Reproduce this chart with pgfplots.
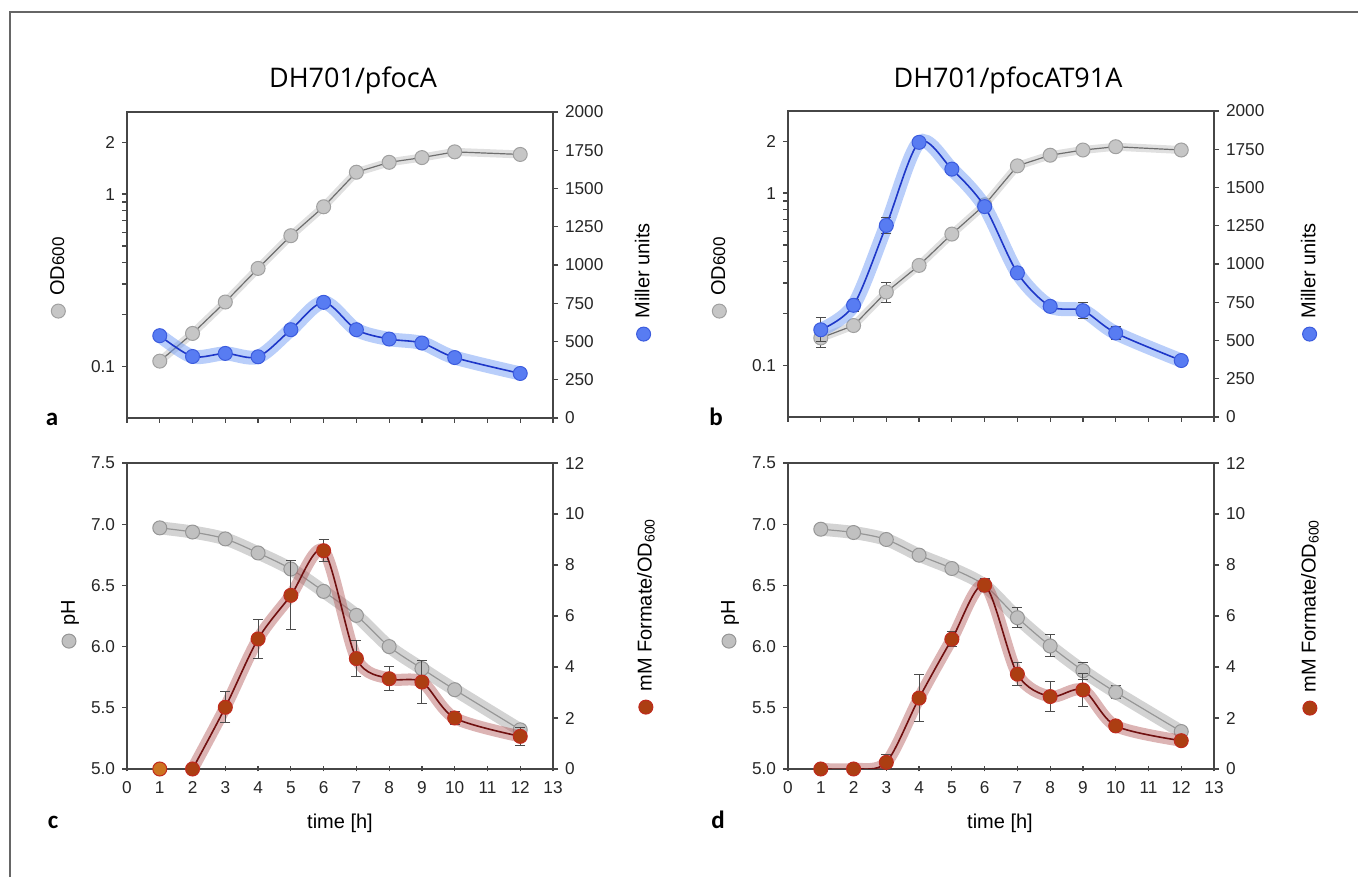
\documentclass[border=0pt]{standalone}
\usepackage{fontspec}
\setmainfont{Liberation Sans}
\newfontfamily\titlefont{Open Sans}
\newfontfamily\letterfont{Carlito}
\usepackage{pgfplots}
\pgfplotsset{compat=1.18}

\definecolor{odfill}{RGB}{198,198,198}
\definecolor{odedge}{RGB}{160,160,160}
\definecolor{odline}{RGB}{110,110,110}
\definecolor{bfill}{RGB}{88,124,242}
\definecolor{bedge}{RGB}{60,92,222}
\definecolor{bline}{RGB}{30,55,200}
\definecolor{bhalo}{RGB}{115,158,245}
\definecolor{rfill}{RGB}{172,62,18}
\definecolor{redge}{RGB}{192,42,30}
\definecolor{rline}{RGB}{112,16,16}
\definecolor{rhalo}{RGB}{178,88,88}
\definecolor{ofill}{RGB}{204,116,32}
\definecolor{phfill}{RGB}{192,192,192}
\definecolor{phedge}{RGB}{150,150,150}
\definecolor{phhalo}{RGB}{150,150,150}
\definecolor{axcol}{RGB}{70,70,70}

\def\u{0.5pt}
\newcommand{\lcirc}[2]{\tikz[baseline=-0.55ex]\draw[#1,fill=#2,line width=0.5pt] (0,0) circle (3.5pt);}

\pgfplotsset{
  panel/.style={scale only axis, width=213pt, height=153pt, anchor=south west,
    xmin=0, xmax=13, xtick={0,...,13},
    axis line style={draw=axcol, line width=0.6pt},
    every tick/.style={axcol, line width=0.6pt},
    major tick length=2.5pt, tick align=outside,
    tick label style={font=\fontsize{8.6}{10}\selectfont, text=black!85},
    xticklabel style={yshift=-1.5pt},
    /pgf/number format/assume math mode=true,
    /pgf/number format/1000 sep={},
    clip mode=individual},
  lefty/.style={panel, ytick pos=left, xtick pos=left},
  righty/.style={panel, axis y line*=right, axis x line=none},
  errs/.style={forget plot, draw=none, mark=none,
    error bars/.cd, y dir=both, y explicit,
    error bar style={draw=black!70, line width=0.5pt},
    error mark options={draw=black!70, rotate=90, mark size=2.5pt, line width=0.5pt}},
  odhalo/.style={draw=black!12, line width=4pt, line cap=round, line join=round},
  odplot/.style={draw=odline, line width=0.6pt, mark=*, mark size=3.5pt,
    mark options={fill=odfill, draw=odedge, line width=0.5pt}},
  bhalo/.style={draw=bhalo, draw opacity=0.5, line width=7pt, smooth, line cap=round},
  bplot/.style={draw=bline, line width=0.8pt, smooth, mark=*, mark size=3.5pt,
    mark options={fill=bfill, draw=bedge, line width=0.5pt}},
  phhalo/.style={draw=phhalo, draw opacity=0.42, line width=6.5pt, smooth, line cap=round},
  phplot/.style={draw=phedge, line width=0.6pt, smooth, mark=*, mark size=3.5pt,
    mark options={fill=phfill, draw=phedge, line width=0.5pt}},
  rhalo/.style={draw=rhalo, draw opacity=0.45, line width=6pt, smooth, line cap=round},
  rplot/.style={draw=rline, line width=0.8pt, smooth, mark=*, mark size=3.5pt,
    mark options={fill=rfill, draw=redge, line width=0.5pt}},
}

\begin{document}
\begin{tikzpicture}
\path[use as bounding box] (0,0) rectangle (1358*\u,877*\u);
\draw[black!60, line width=1pt] (10*\u,0) -- (10*\u,865*\u) -- (1358*\u,865*\u);

% ---------- panel a ----------
\begin{axis}[lefty, at={(127*\u,459*\u)}, ymode=log, ymin=0.05, ymax=3,
  ytick={0.1,0.2,0.3,0.4,0.5,0.6,0.7,0.8,0.9,1,2},
  yticklabels={0.1,,,,,,,,,1,2}, xticklabels={}]
\addplot[odhalo] coordinates {(1,0.107)(2,0.155)(3,0.236)(4,0.37)(5,0.573)(6,0.844)(7,1.34)(8,1.53)(9,1.63)(10,1.76)(12,1.70)};
\addplot[odplot] coordinates {(1,0.107)(2,0.155)(3,0.236)(4,0.37)(5,0.573)(6,0.844)(7,1.34)(8,1.53)(9,1.63)(10,1.76)(12,1.70)};
\end{axis}
\begin{axis}[righty, at={(127*\u,459*\u)}, ymin=0, ymax=2000, ytick distance=250]
\addplot[bhalo] coordinates {(1,538)(2,402)(3,422)(4,400)(5,577)(6,756)(7,577)(8,516)(9,490)(10,395)(12,291)};
\addplot[errs] coordinates {(9,490)+-(0,20)};
\addplot[bplot] coordinates {(1,538)(2,402)(3,422)(4,400)(5,577)(6,756)(7,577)(8,516)(9,490)(10,395)(12,291)};
\end{axis}

% ---------- panel b ----------
\begin{axis}[lefty, at={(788*\u,460*\u)}, ymode=log, ymin=0.05, ymax=3,
  ytick={0.1,0.2,0.3,0.4,0.5,0.6,0.7,0.8,0.9,1,2},
  yticklabels={0.1,,,,,,,,,1,2}, xticklabels={}]
\addplot[odhalo] coordinates {(1,0.144)(2,0.170)(3,0.266)(4,0.38)(5,0.578)(6,0.855)(7,1.44)(8,1.66)(9,1.78)(10,1.86)(12,1.78)};
\addplot[errs] coordinates {(1,0.144)+-(0,0.017)(2,0.170)+-(0,0.008)(3,0.266)+-(0,0.036)(5,0.578)+-(0,0.03)};
\addplot[odplot] coordinates {(1,0.144)(2,0.170)(3,0.266)(4,0.38)(5,0.578)(6,0.855)(7,1.44)(8,1.66)(9,1.78)(10,1.86)(12,1.78)};
\end{axis}
\begin{axis}[righty, at={(788*\u,460*\u)}, ymin=0, ymax=2000, ytick distance=250]
\addplot[bhalo] coordinates {(1,570)(2,730)(3,1252)(4,1795)(5,1620)(6,1375)(7,942)(8,723)(9,695)(10,549)(12,369)};
\addplot[errs] coordinates {(1,570)+-(0,77)(2,730)+-(0,40)(3,1252)+-(0,50)(4,1795)+-(0,22)(6,1375)+-(0,25)(9,695)+-(0,52)(10,549)+-(0,40)};
\addplot[bplot] coordinates {(1,570)(2,730)(3,1252)(4,1795)(5,1620)(6,1375)(7,942)(8,723)(9,695)(10,549)(12,369)};
\end{axis}

% ---------- panel c ----------
\begin{axis}[lefty, at={(127*\u,108*\u)}, ymin=5, ymax=7.5, ytick={5,5.5,...,7.5},
  yticklabel style={/pgf/number format/.cd, fixed, fixed zerofill, precision=1},
  xtick align=center]
\addplot[phhalo] coordinates {(1,6.97)(2,6.936)(3,6.88)(4,6.765)(5,6.634)(6,6.451)(7,6.255)(8,6.0)(9,5.82)(10,5.648)(12,5.32)};
\addplot[errs] coordinates {(12,5.32)+-(0,0.03)};
\addplot[phplot] coordinates {(1,6.97)(2,6.936)(3,6.88)(4,6.765)(5,6.634)(6,6.451)(7,6.255)(8,6.0)(9,5.82)(10,5.648)(12,5.32)};
\end{axis}
\begin{axis}[righty, at={(127*\u,108*\u)}, ymin=0, ymax=12, ytick distance=2]
\addplot[rhalo] coordinates {(2,0)(3,2.42)(4,5.1)(5,6.81)(6,8.56)(7,4.33)(8,3.54)(9,3.41)(10,2.0)(12,1.28)};
\addplot[errs] coordinates {(3,2.42)+-(0,0.6)(4,5.1)+-(0,0.75)(5,6.81)+-(0,1.35)(6,8.56)+-(0,0.44)(7,4.33)+-(0,0.72)(8,3.54)+-(0,0.47)(9,3.41)+-(0,0.84)(10,2.0)+-(0,0.27)(12,1.28)+-(0,0.35)};
\addplot[rplot] coordinates {(2,0)(3,2.42)(4,5.1)(5,6.81)(6,8.56)(7,4.33)(8,3.54)(9,3.41)(10,2.0)(12,1.28)};
\addplot[only marks, mark=*, mark size=3.5pt, mark options={fill=ofill, draw=redge, line width=0.5pt}] coordinates {(1,0)};
\end{axis}

% ---------- panel d ----------
\begin{axis}[lefty, at={(788*\u,108*\u)}, ymin=5, ymax=7.5, ytick={5,5.5,...,7.5},
  yticklabel style={/pgf/number format/.cd, fixed, fixed zerofill, precision=1},
  xtick align=center]
\addplot[phhalo] coordinates {(1,6.959)(2,6.932)(3,6.875)(4,6.747)(5,6.638)(6,6.50)(7,6.236)(8,6.005)(9,5.803)(10,5.627)(12,5.306)};
\addplot[errs] coordinates {(6,6.50)+-(0,0.05)(7,6.236)+-(0,0.08)(8,6.005)+-(0,0.09)(9,5.803)+-(0,0.07)(10,5.627)+-(0,0.055)(12,5.306)+-(0,0.02)};
\addplot[phplot] coordinates {(1,6.959)(2,6.932)(3,6.875)(4,6.747)(5,6.638)(6,6.50)(7,6.236)(8,6.005)(9,5.803)(10,5.627)(12,5.306)};
\end{axis}
\begin{axis}[righty, at={(788*\u,108*\u)}, ymin=0, ymax=12, ytick distance=2]
\addplot[rhalo] coordinates {(1,0)(2,0)(3,0.26)(4,2.78)(5,5.09)(6,7.21)(7,3.72)(8,2.84)(9,3.1)(10,1.69)(12,1.11)};
\addplot[errs] coordinates {(3,0.26)+-(0,0.3)(4,2.78)+-(0,0.93)(5,5.09)+-(0,0.29)(6,7.21)+-(0,0.26)(7,3.72)+-(0,0.46)(8,2.84)+-(0,0.6)(9,3.1)+-(0,0.63)(10,1.69)+-(0,0.05)(12,1.11)+-(0,0.12)};
\addplot[rplot] coordinates {(1,0)(2,0)(3,0.26)(4,2.78)(5,5.09)(6,7.21)(7,3.72)(8,2.84)(9,3.1)(10,1.69)(12,1.11)};
\end{axis}

% ---------- titles and labels ----------
\node[font=\titlefont\fontsize{13.5}{15}\selectfont] at (353*\u,797*\u) {DH701/pfocA};
\node[font=\titlefont\fontsize{13.5}{15}\selectfont] at (1008*\u,797*\u) {DH701/pfocAT91A};

\node[font=\letterfont\bfseries\fontsize{12.5}{14}\selectfont] at (52*\u,458*\u) {a};
\node[font=\letterfont\bfseries\fontsize{12.5}{14}\selectfont] at (716*\u,460*\u) {b};
\node[font=\letterfont\bfseries\fontsize{12.5}{14}\selectfont] at (53*\u,55*\u) {c};
\node[font=\letterfont\bfseries\fontsize{12.5}{14}\selectfont] at (718*\u,57*\u) {d};

\tikzset{ylab/.style={rotate=90, anchor=west, inner sep=0pt, font=\fontsize{10}{12}\selectfont}}
\node[ylab] at (58*\u,558*\u) {\lcirc{odedge}{odfill}\hspace{4pt}OD{\fontsize{8.5}{10}\selectfont 600}};
\node[ylab] at (643*\u,535*\u) {\lcirc{bedge}{bfill}\hspace{4pt}Miller units};
\node[ylab] at (719*\u,558*\u) {\lcirc{odedge}{odfill}\hspace{4pt}OD{\fontsize{8.5}{10}\selectfont 600}};
\node[ylab] at (1309*\u,535*\u) {\lcirc{bedge}{bfill}\hspace{4pt}Miller units};

\node[ylab] at (70*\u,228*\u) {\lcirc{phedge}{phfill}\hspace{4pt}pH};
\node[ylab] at (646*\u,162*\u) {\lcirc{redge}{rfill}\hspace{4pt}mM Formate/OD\textsubscript{600}};
\node[ylab] at (730*\u,228*\u) {\lcirc{phedge}{phfill}\hspace{4pt}pH};
\node[ylab] at (1310*\u,161*\u) {\lcirc{redge}{rfill}\hspace{4pt}mM Formate/OD\textsubscript{600}};

\node[font=\fontsize{10}{12}\selectfont] at (340*\u,54*\u) {time [h]};
\node[font=\fontsize{10}{12}\selectfont] at (1000*\u,54*\u) {time [h]};
\end{tikzpicture}
\end{document}
